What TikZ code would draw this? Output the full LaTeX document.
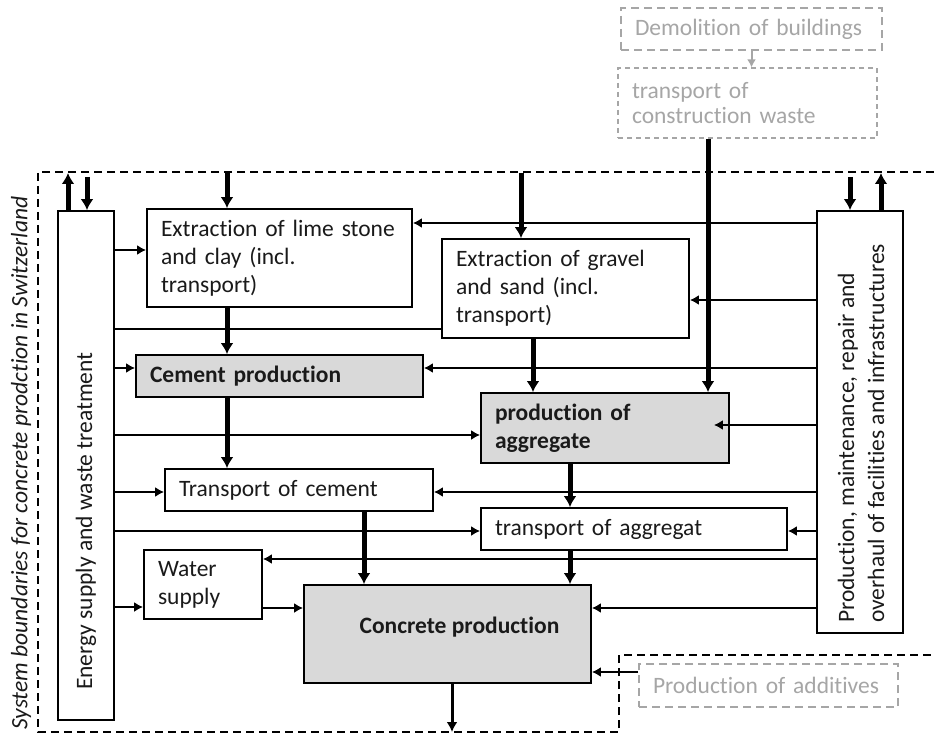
\documentclass[tikz,border=0pt]{standalone}
\usepackage{fontspec}
\setmainfont{Carlito}[RawFeature={-liga}]
\usetikzlibrary{arrows.meta}
\definecolor{txt}{HTML}{1A1A1A}
\definecolor{fillg}{HTML}{D9D9D9}
\definecolor{ghost}{HTML}{A6A6A6}
\begin{document}
\begin{tikzpicture}[x=1pt,y=-1pt,
  font=\fontsize{23.5}{28}\selectfont,
  box/.style={draw=black, line width=1.8pt, fill=white, inner xsep=14pt, inner ysep=0pt, align=left, text=txt, anchor=center},
  greybox/.style={box, fill=fillg, font=\fontsize{23.5}{28}\selectfont\bfseries},
  ghostbox/.style={box, draw=ghost, text=ghost, dash pattern=on 8pt off 5pt},
  conn/.style={line width=2.6pt, -{Latex[length=9pt,width=10pt]}},
  plainline/.style={line width=2.6pt},
  thickarr/.style={line width=5pt, -{Latex[length=11pt,width=13pt]}},
  outarr/.style={line width=3pt, -{Latex[length=10pt,width=11pt]}},
  ghostarr/.style={draw=ghost, line width=2pt, -{Latex[length=8pt,width=9pt]}},
  bound/.style={line width=2pt, dash pattern=on 8pt off 5pt},
  rotlabel/.style={rotate=90, anchor=west, inner sep=0pt, text=txt, align=left},
]
\useasboundingbox (0,0) rectangle (934,735);

% system boundary
\draw[bound] (934,172) -- (38,172) -- (38,732) -- (619,732) -- (619,655) -- (934,655);
\node[rotlabel, font=\fontsize{23.5}{28}\selectfont\itshape] (sbl) at (21,730) {System boundaries for concrete prodction in Switzerland};

% guide coordinates
\coordinate (bnd) at (0,173);
\coordinate (bndB) at (0,732);

% boxes
\node[ghostbox, text width=233pt, minimum height=42pt] (demo) at (751.5,29) {Demolition of buildings};
\node[ghostbox, line width=1.3pt, dash pattern=on 5pt off 4pt, text width=231pt, minimum height=70pt, font=\fontsize{23.5}{25}\selectfont] (ctw) at (747.5,103) {transport of\\construction waste};
\node[box, minimum width=56pt, minimum height=509pt, inner sep=0pt] (energy) at (86,465.5) {};
\node[box, minimum width=86pt, minimum height=422pt, inner sep=0pt] (prodfac) at (860,422) {};
\node[box, text width=237pt, minimum height=98pt] (lime) at (279.5,258) {Extraction of lime stone\\and clay (incl.\\transport)};
\node[box, text width=219pt, minimum height=99pt] (gravel) at (565.5,288.5) {Extraction of gravel\\and sand (incl.\\transport)};
\node[greybox, text width=259pt, minimum height=42pt] (cement) at (279.5,376) {Cement production};
\node[greybox, text width=220pt, minimum height=70pt] (aggr) at (605,428) {production of\\aggregate};
\node[box, text width=240pt, minimum height=42pt] (tcem) at (299,490) {Transport of cement};
\node[box, text width=278pt, minimum height=42pt] (tagg) at (634,529) {transport of aggregat};
\node[box, text width=90pt, minimum height=69pt] (water) at (203,584.5) {Water\\supply};
\node[greybox, minimum width=287pt, minimum height=98pt, inner sep=0pt] (concrete) at (447.5,634) {};
\node[font=\fontsize{23.5}{28}\selectfont\bfseries, text=txt, inner sep=0pt] (conclbl) at (459.5,627) {Concrete production};
\node[ghostbox, text width=231pt, minimum height=43pt] (addit) at (768.5,685.5) {Production of additives};

% rotated labels
\node[rotlabel] (energylbl) at (86,690) {Energy supply and waste treatment};
\node[rotlabel, font=\fontsize{23.5}{30}\selectfont] (prodlbl) at (861,623) {Production, maintenance, repair and\\overhaul of facilities and infrastructures};

% connectors from energy supply
\coordinate (eLime) at ([yshift=8pt]lime.west);
\draw[conn] (energy.east |- eLime) -- (eLime);
\coordinate (eGrav) at ([yshift=-40.5pt]gravel.west);
\draw[plainline] (energy.east |- eGrav) -- (eGrav);
\coordinate (eCem) at ([yshift=8pt]cement.west);
\draw[conn] (energy.east |- eCem) -- (eCem);
\coordinate (eAgg) at ([yshift=-7pt]aggr.west);
\draw[conn] (energy.east |- eAgg) -- (eAgg);
\coordinate (eTcem) at ([yshift=-2pt]tcem.west);
\draw[conn] (energy.east |- eTcem) -- (eTcem);
\coordinate (eTagg) at ([yshift=-2pt]tagg.west);
\draw[conn] (energy.east |- eTagg) -- (eTagg);
\coordinate (eWat) at ([yshift=-22.5pt]water.west);
\draw[conn] (energy.east |- eWat) -- (eWat);
\coordinate (cW) at ([yshift=26pt]concrete.west);
\draw[conn] (water.east |- cW) -- (cW);

% connectors from production / maintenance
\coordinate (rLime) at ([yshift=35pt]lime.east);
\draw[conn] (prodfac.west |- rLime) -- (rLime);
\coordinate (rGrav) at ([yshift=-11.5pt]gravel.east);
\draw[conn] (prodfac.west |- rGrav) -- (rGrav);
\coordinate (rCem) at ([yshift=8pt]cement.east);
\draw[conn] (prodfac.west |- rCem) -- (rCem);
\coordinate (rAgg) at ([xshift=-16pt,yshift=3pt]aggr.east);
\draw[conn] (prodfac.west |- rAgg) -- (rAgg);
\coordinate (rTcem) at ([yshift=-2pt]tcem.east);
\draw[conn] (prodfac.west |- rTcem) -- (rTcem);
\coordinate (rTagg) at ([yshift=-2pt]tagg.east);
\draw[conn] (prodfac.west |- rTagg) -- (rTagg);
\coordinate (rWat) at ([yshift=25.5pt]water.east);
\draw[conn] (prodfac.west |- rWat) -- (rWat);
\coordinate (cR) at ([yshift=26pt]concrete.east);
\draw[conn] (prodfac.west |- cR) -- (cR);
\coordinate (cAdd) at ([yshift=-38pt]concrete.east);
\draw[conn] (addit.west |- cAdd) -- (cAdd);

% thick vertical flows
\coordinate (vA) at ([xshift=-52.5pt]lime.north);
\draw[thickarr] (vA |- bnd) -- (vA);
\draw[thickarr] (vA |- lime.south) -- (vA |- cement.north);
\draw[thickarr] (vA |- cement.south) -- (vA |- tcem.north);
\coordinate (vB) at ([xshift=-44.5pt]gravel.north);
\draw[thickarr] (vB |- bnd) -- (vB);
\coordinate (vC) at ([xshift=-32.5pt]gravel.south);
\draw[thickarr] (vC) -- (vC |- aggr.north);
\coordinate (vD) at ([xshift=-39.5pt]ctw.south);
\draw[thickarr] (vD) -- (vD |- aggr.north);
\coordinate (vE) at ([xshift=-35pt]aggr.south);
\draw[thickarr] (vE) -- (vE |- tagg.north);
\draw[thickarr] (vE |- tagg.south) -- (vE |- concrete.north);
\coordinate (vF) at ([xshift=65pt]tcem.south);
\draw[thickarr] (vF) -- (vF |- concrete.north);
\coordinate (vG) at ([xshift=4.5pt]concrete.south);
\draw[outarr] (vG) -- (vG |- bndB);
\draw[ghostarr] (demo.south) -- (demo.south |- ctw.north);

% exchanges across the top boundary
\coordinate (eUp) at ([xshift=-18pt]energy.north);
\draw[thickarr] (eUp) -- (eUp |- bnd);
\coordinate (eDn) at ([xshift=1pt]energy.north);
\draw[thickarr] ([yshift=-4pt]eDn |- bnd) -- (eDn);
\coordinate (pDn) at ([xshift=-10pt]prodfac.north);
\draw[thickarr] ([yshift=-4pt]pDn |- bnd) -- (pDn);
\coordinate (pUp) at ([xshift=21pt]prodfac.north);
\draw[thickarr] (pUp) -- (pUp |- bnd);
\end{tikzpicture}
\end{document}
